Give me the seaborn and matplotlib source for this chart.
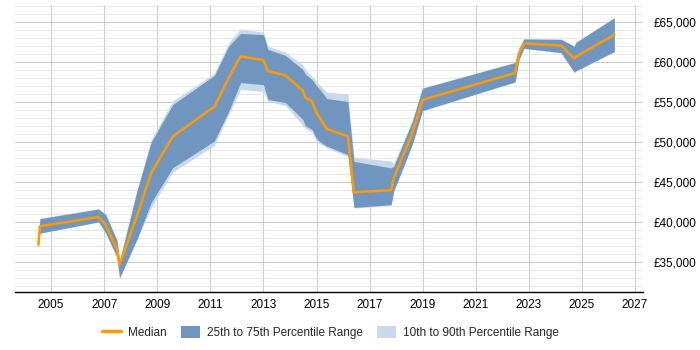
import matplotlib
matplotlib.use("Agg")
import matplotlib.pyplot as plt
import seaborn as sns
import pandas as pd
from matplotlib.ticker import MultipleLocator, FuncFormatter
from matplotlib.patches import Patch
from matplotlib.lines import Line2D

# values (fractional years)
years = [2004.52, 2004.58, 2006.79, 2007.06, 2007.48, 2007.58, 2008.23, 2008.77,
         2009.58, 2011.15, 2011.69, 2012.14, 2013.00, 2013.17, 2013.83, 2014.48,
         2014.58, 2014.83, 2014.98, 2015.09, 2015.39, 2016.18, 2016.41, 2017.81,
         2017.91, 2018.61, 2018.99, 2022.48, 2022.63, 2022.81, 2024.21, 2024.71,
         2024.76, 2026.22]
median = [37150, 39450, 40600, 39600, 36600, 34650, 40700, 46100,
          50650, 54400, 58000, 60700, 60200, 58850, 58300, 56400,
          55500, 55100, 53800, 53150, 51600, 50700, 43700, 43950,
          45500, 51100, 55250, 58600, 61100, 62300, 62050, 60400,
          60600, 63400]
p25 = [36800, 38600, 40000, 38600, 35600, 33000, 37800, 42400,
       46750, 50100, 53800, 57400, 57150, 55300, 54900, 52800,
       52000, 51550, 50500, 50100, 49450, 48400, 41800, 42150,
       43850, 49700, 53900, 57500, 60300, 61700, 61150, 58700,
       58850, 61300]
p75 = [37500, 40400, 41600, 40900, 37700, 35100, 43800, 49950,
       54650, 58300, 61950, 63550, 63400, 61550, 60800, 59050,
       58450, 57800, 57100, 56700, 55400, 55050, 47550, 46750,
       46950, 52600, 56700, 59900, 61700, 62850, 62800, 61950,
       62400, 65500]
p10 = [36700, 38550, 39950, 38550, 35550, 32950, 37700, 41750,
       46200, 49550, 53400, 56550, 56300, 55050, 54550, 52050,
       51700, 51200, 50100, 49800, 49250, 48150, 41700, 42050,
       43800, 49650, 53850, 57450, 60250, 61650, 61100, 58650,
       58800, 61250]
p90 = [37600, 40450, 41650, 40950, 37750, 35150, 43900, 50300,
       55100, 58550, 62400, 64100, 63700, 61950, 61200, 59650,
       59000, 58200, 57600, 57200, 56200, 56000, 48050, 47600,
       47300, 52650, 56750, 59950, 61750, 62900, 62850, 62000,
       62450, 65550]
year_ticks = list(range(2005, 2028, 2))

df = pd.DataFrame({"year": years, "median": median,
                   "p25": p25, "p75": p75, "p10": p10, "p90": p90})

sns.set_style("white")
plt.rcParams["font.family"] = ["Liberation Sans", "DejaVu Sans"]

fig = plt.figure(figsize=(7, 3.5), dpi=100)
ax = fig.add_axes([0.0214, 0.165, 0.8972, 0.8207])

light = "#c8d9ec"
dark = "#7096bf"
orange = "#ff9900"

ax.fill_between(df["year"], df["p10"], df["p90"], color=light, lw=0, zorder=2)
ax.fill_between(df["year"], df["p25"], df["p75"], color=dark, lw=0, zorder=3)
sns.lineplot(data=df, x="year", y="median", color=orange, lw=1.8, ax=ax, zorder=4)

ax.set_xlim(2003.64, 2027.3)
ax.set_ylim(31200, 67100)

ax.set_xticks(year_ticks)
ax.set_xticklabels([str(y) for y in year_ticks])
ax.yaxis.set_major_locator(MultipleLocator(5000))
ax.yaxis.set_minor_locator(MultipleLocator(1000))
ax.yaxis.set_major_formatter(FuncFormatter(lambda v, p: f"£{int(v):,}"))
ax.yaxis.tick_right()

ax.grid(which="major", axis="x", color="#cccccc", lw=0.8, zorder=0)
ax.grid(which="major", axis="y", color="#cccccc", lw=0.8, zorder=0)
ax.grid(which="minor", axis="y", color="#e8e8e8", lw=0.8, zorder=0)
ax.set_axisbelow(True)

for side in ["top", "left", "right"]:
    ax.spines[side].set_visible(False)
ax.spines["bottom"].set_color("black")
ax.spines["bottom"].set_linewidth(1)

ax.tick_params(axis="both", which="both", length=0, labelsize=8.5, colors="black")
ax.tick_params(axis="y", pad=8)
ax.tick_params(axis="x", pad=5)
ax.set_xlabel("")
ax.set_ylabel("")

handles = [Line2D([0], [0], color=orange, lw=2.5),
           Patch(facecolor=dark, edgecolor="none"),
           Patch(facecolor=light, edgecolor="none")]
labels = ["Median", "25th to 75th Percentile Range", "10th to 90th Percentile Range"]
fig.legend(handles, labels, loc="center", bbox_to_anchor=(0.472, 0.049), ncol=3,
           frameon=False, fontsize=8.5, handlelength=1.6, handleheight=1.2,
           columnspacing=1.2, handletextpad=0.6)

fig.savefig("out.png", dpi=100)
